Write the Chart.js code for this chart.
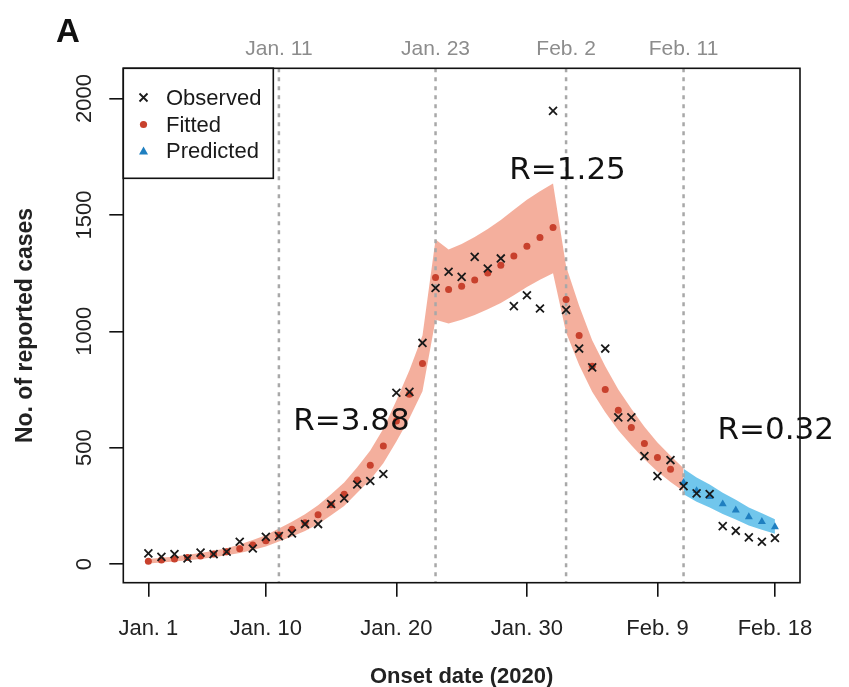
<!DOCTYPE html>
<html><head><meta charset="utf-8">
<script src="https://cdn.jsdelivr.net/npm/chart.js@4.4.0/dist/chart.umd.min.js"></script>
<style>html,body{margin:0;padding:0;background:#fff}canvas{display:block}</style>
</head><body>
<canvas id="c" width="849" height="687" style="width:849px;height:687px"></canvas>
<script>
// Day index 0 = Jan. 1, 2020
const observed = [46,31,43,24,49,43,53,96,67,117,120,132,172,172,258,282,342,357,387,736,740,950,1186,1256,1234,1320,1270,1313,1108,1155,1098,1947,1092,926,845,926,630,630,464,378,447,335,304,301,163,143,115,96,112];
// fitted: days 0..40
const fitted = [12,17,22,28,35,43,53,66,82,100,125,150,178,212,255,300,361,425,507,615,730,862,1231,1180,1194,1220,1251,1284,1324,1366,1403,1446,1137,982,850,750,661,587,518,458,407];
// fitted band: days 0..41
const fittedUpper = [22,27,33,40,48,57,68,84,103,124,153,182,214,253,300,351,416,488,581,703,833,982,1395,1352,1375,1405,1440,1478,1522,1565,1602,1635,1280,1110,962,850,750,667,590,522,465,412];
const fittedLower = [2,7,11,16,22,29,38,48,61,76,97,118,142,171,210,249,306,362,433,527,627,742,1050,1034,1050,1070,1095,1122,1155,1190,1222,1250,995,855,740,652,575,510,450,398,353,313];
// predicted: days 41..48
const predStart = 41;
const predicted = [350,315,289,258,232,203,182,160];
const predUpper = [410,372,342,306,276,243,218,193];
const predLower = [300,268,243,215,192,166,148,130];

const xTickDays = [0,9,19,29,39,48];
const xTickLabels = ['Jan. 1','Jan. 10','Jan. 20','Jan. 30','Feb. 9','Feb. 18'];
const yTicks = [0,500,1000,1500,2000];
const eventDays = [10,22,32,41];
const eventLabels = ['Jan. 11','Jan. 23','Feb. 2','Feb. 11'];
const rLabels = ['R=3.88','R=1.25','R=0.32'];
const rLabelDays = [11.1,27.65,43.6];
const rLabelValues = [609,1687,574];

const toPts = (arr, start) => arr.map((v,i)=>({x:i+start,y:v}));

const C_OBS = '#1a1a1a', C_FIT = '#c8412d', C_FITBAND = 'rgba(243,166,146,0.9)';
const C_PRED = '#1f7fc0', C_PREDBAND = 'rgba(98,192,234,0.9)';
const FONT = 'Liberation Sans, Arial, sans-serif';

const overlay = {
  id: 'overlay',
  afterDatasetDraw(chart, args) {
    if (args.index !== 3) return;
    const ctx = chart.ctx, xs = chart.scales.x, a = chart.chartArea;
    ctx.save();
    ctx.strokeStyle = '#a8a8a8'; ctx.lineWidth = 2.5; ctx.setLineDash([4,5]);
    eventDays.forEach(d => {
      const px = xs.getPixelForValue(d);
      ctx.beginPath(); ctx.moveTo(px, a.top); ctx.lineTo(px, a.bottom); ctx.stroke();
    });
    ctx.restore();
  },
  afterDraw(chart) {
    const ctx = chart.ctx, xs = chart.scales.x, ys = chart.scales.y, a = chart.chartArea;
    ctx.save();
    // box
    ctx.strokeStyle = '#111'; ctx.lineWidth = 1.6; ctx.setLineDash([]);
    ctx.strokeRect(a.left, a.top, a.right - a.left, a.bottom - a.top);
    // x tick labels
    ctx.fillStyle = '#222'; ctx.font = '22px ' + FONT; ctx.textAlign = 'center'; ctx.textBaseline = 'alphabetic';
    xTickDays.forEach((d,i) => ctx.fillText(xTickLabels[i], xs.getPixelForValue(d), 635));
    // y tick labels (rotated)
    yTicks.forEach(v => {
      ctx.save(); ctx.translate(91, ys.getPixelForValue(v)); ctx.rotate(-Math.PI/2);
      ctx.fillText(String(v), 0, 0); ctx.restore();
    });
    // axis titles
    ctx.font = 'bold 22px ' + FONT; ctx.fillStyle = '#222';
    ctx.fillText('Onset date (2020)', (a.left + a.right)/2, 683);
    ctx.save(); ctx.translate(31.5, (a.top + a.bottom)/2); ctx.rotate(-Math.PI/2);
    ctx.font = 'bold 23px ' + FONT; ctx.fillText('No. of reported cases', 0, 0); ctx.restore();
    // event labels above
    ctx.font = '21px ' + FONT; ctx.fillStyle = '#8c8c8c';
    eventDays.forEach((d,i) => ctx.fillText(eventLabels[i], xs.getPixelForValue(d), 55));
    // panel letter
    ctx.font = 'bold 33px ' + FONT; ctx.fillStyle = '#111'; ctx.textAlign = 'left';
    ctx.fillText('A', 56, 42);
    // R labels
    ctx.font = '31px "DejaVu Sans", sans-serif'; ctx.fillStyle = '#111'; ctx.textBaseline = 'middle'; ctx.textAlign = 'left';
    rLabels.forEach((t,i) => ctx.fillText(t, xs.getPixelForValue(rLabelDays[i]), ys.getPixelForValue(rLabelValues[i])));
    // legend
    const lx = a.left, ly = a.top, lw = 150, lh = 110;
    ctx.fillStyle = '#fff'; ctx.fillRect(lx, ly, lw, lh);
    ctx.strokeStyle = '#111'; ctx.lineWidth = 1.6; ctx.strokeRect(lx, ly, lw, lh);
    const rows = [97.5, 124.5, 151];
    const sx = 143.5;
    // cross
    ctx.strokeStyle = C_OBS; ctx.lineWidth = 1.8;
    ctx.beginPath(); ctx.moveTo(sx-4, rows[0]-4); ctx.lineTo(sx+4, rows[0]+4);
    ctx.moveTo(sx+4, rows[0]-4); ctx.lineTo(sx-4, rows[0]+4); ctx.stroke();
    // dot
    ctx.fillStyle = C_FIT; ctx.beginPath(); ctx.arc(sx, rows[1], 3.6, 0, Math.PI*2); ctx.fill();
    // triangle
    ctx.fillStyle = C_PRED; ctx.beginPath();
    ctx.moveTo(sx, rows[2]-4.5); ctx.lineTo(sx+4.5, rows[2]+3.5); ctx.lineTo(sx-4.5, rows[2]+3.5); ctx.closePath(); ctx.fill();
    ctx.fillStyle = '#1a1a1a'; ctx.font = '22px ' + FONT; ctx.textBaseline = 'middle';
    ['Observed','Fitted','Predicted'].forEach((t,i) => ctx.fillText(t, 166, rows[i] + 1));
    ctx.restore();
  }
};

new Chart(document.getElementById('c'), {
  type: 'line',
  data: {
    datasets: [
      { label:'Observed', data: toPts(observed,0), showLine:false, pointStyle:'crossRot', pointRadius:5.6, borderColor:C_OBS, borderWidth:1.8, order:0 },
      { label:'Predicted', data: toPts(predicted,predStart), showLine:false, pointStyle:'triangle', pointRadius:4.6, backgroundColor:C_PRED, borderColor:C_PRED, borderWidth:0, order:1 },
      { label:'Fitted', data: toPts(fitted,0), showLine:false, pointStyle:'circle', pointRadius:3.5, backgroundColor:C_FIT, borderColor:C_FIT, borderWidth:0, order:2 },
      { label:'predUpper', data: toPts(predUpper,predStart), pointRadius:0, borderWidth:0, borderColor:'rgba(0,0,0,0)', fill:4, backgroundColor:C_PREDBAND, tension:0, order:3 },
      { label:'predLower', data: toPts(predLower,predStart), pointRadius:0, borderWidth:0, borderColor:'rgba(0,0,0,0)', fill:false, tension:0, order:4 },
      { label:'fitUpper', data: toPts(fittedUpper,0), pointRadius:0, borderWidth:0, borderColor:'rgba(0,0,0,0)', fill:6, backgroundColor:C_FITBAND, tension:0, order:5 },
      { label:'fitLower', data: toPts(fittedLower,0), pointRadius:0, borderWidth:0, borderColor:'rgba(0,0,0,0)', fill:false, tension:0, order:6 }
    ]
  },
  options: {
    responsive:false, animation:false, devicePixelRatio:1,
    layout:{ padding:{ top:68.3, right:49, bottom:0, left:0 } },
    plugins:{ legend:{display:false}, tooltip:{enabled:false}, filler:{propagate:false} },
    scales:{
      x:{ type:'linear', min:-1.92, max:49.92,
          afterBuildTicks(s){ s.ticks = xTickDays.map(v=>({value:v})); },
          afterFit(s){ s.height = 104.3; },
          ticks:{ display:false },
          grid:{ display:true, drawOnChartArea:false, drawTicks:true, tickLength:14, color:'#111', lineWidth:1.6 },
          border:{ display:false } },
      y:{ type:'linear', min:-80, max:2130,
          afterBuildTicks(s){ s.ticks = yTicks.map(v=>({value:v})); },
          afterFit(s){ s.width = 123.3; },
          ticks:{ display:false },
          grid:{ display:true, drawOnChartArea:false, drawTicks:true, tickLength:14, color:'#111', lineWidth:1.6 },
          border:{ display:false } }
    }
  },
  plugins:[overlay]
});
</script>
</body></html>
